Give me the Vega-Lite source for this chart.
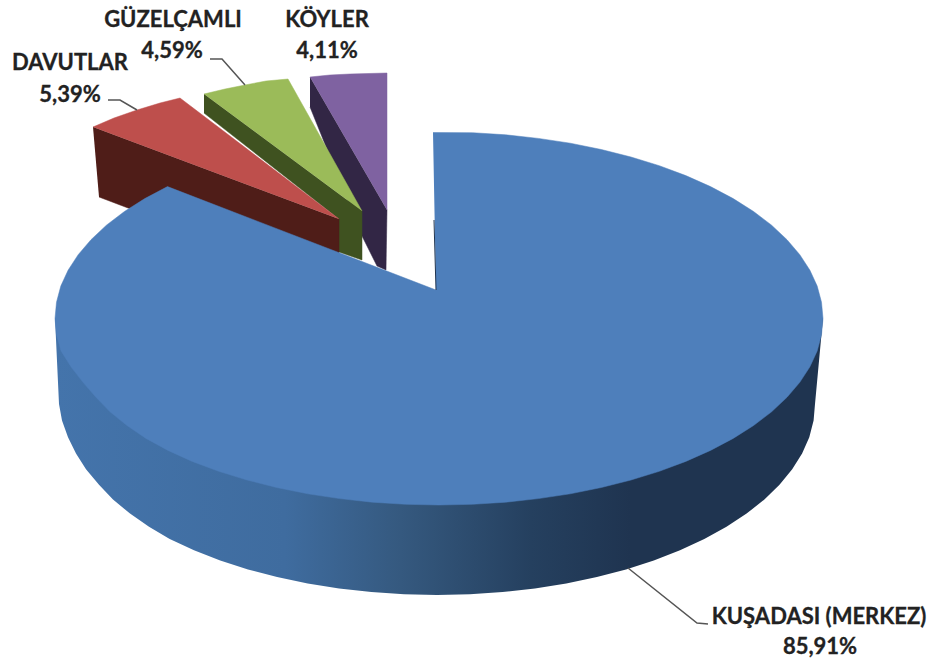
{
"$schema":"https://vega.github.io/schema/vega-lite/v6.json",
"width":944,"height":661,"padding":0,"autosize":{"type":"none"},"background":"white",
"view":{"stroke":null},
"datasets":{
"shapes":[
{"part":"side","i":0,"x":55,"y":318},{"part":"side","i":1,"x":59,"y":404},{"part":"side","i":2,"x":62,"y":420.6},{"part":"side","i":3,"x":68,"y":437.2},{"part":"side","i":4,"x":76,"y":453.4},{"part":"side","i":5,"x":86,"y":469.3},{"part":"side","i":6,"x":99,"y":484.7},{"part":"side","i":7,"x":113,"y":499.5},{"part":"side","i":8,"x":130,"y":513.6},{"part":"side","i":9,"x":149,"y":526.8},{"part":"side","i":10,"x":169.7,"y":539.1},{"part":"side","i":11,"x":194,"y":550.3},{"part":"side","i":12,"x":220.2,"y":560.5},{"part":"side","i":13,"x":248,"y":569.4},{"part":"side","i":14,"x":277.1,"y":577.1},{"part":"side","i":15,"x":307.7,"y":583.5},{"part":"side","i":16,"x":339.1,"y":588.5},{"part":"side","i":17,"x":371.4,"y":592.1},{"part":"side","i":18,"x":404.1,"y":594.3},{"part":"side","i":19,"x":437,"y":595},{"part":"side","i":20,"x":469.9,"y":594.3},{"part":"side","i":21,"x":502.6,"y":592.1},{"part":"side","i":22,"x":534.9,"y":588.5},{"part":"side","i":23,"x":566.3,"y":583.5},{"part":"side","i":24,"x":596.9,"y":577.1},{"part":"side","i":25,"x":626,"y":569.4},{"part":"side","i":26,"x":653.8,"y":560.5},{"part":"side","i":27,"x":680,"y":550.3},{"part":"side","i":28,"x":704.3,"y":539.1},{"part":"side","i":29,"x":726.5,"y":526.8},{"part":"side","i":30,"x":746.6,"y":513.6},{"part":"side","i":31,"x":764.4,"y":499.5},{"part":"side","i":32,"x":779.5,"y":484.7},{"part":"side","i":33,"x":792.2,"y":469.3},{"part":"side","i":34,"x":802.1,"y":453.4},{"part":"side","i":35,"x":809.3,"y":437.2},{"part":"side","i":36,"x":813.6,"y":420.6},{"part":"side","i":37,"x":815,"y":404},{"part":"side","i":38,"x":823,"y":318},
{"part":"top","i":0,"x":433,"y":132.5},{"part":"top","i":1,"x":472.5,"y":132.7},{"part":"top","i":2,"x":505.7,"y":134.8},{"part":"top","i":3,"x":538.4,"y":138.4},{"part":"top","i":4,"x":570.3,"y":143.2},{"part":"top","i":5,"x":601.3,"y":149.5},{"part":"top","i":6,"x":631,"y":157},{"part":"top","i":7,"x":659.3,"y":165.7},{"part":"top","i":8,"x":685.8,"y":175.6},{"part":"top","i":9,"x":710.5,"y":186.6},{"part":"top","i":10,"x":733.2,"y":198.6},{"part":"top","i":11,"x":753.6,"y":211.5},{"part":"top","i":12,"x":771.6,"y":225.2},{"part":"top","i":13,"x":787,"y":239.7},{"part":"top","i":14,"x":799.8,"y":254.7},{"part":"top","i":15,"x":809.9,"y":270.2},{"part":"top","i":16,"x":817.2,"y":286.1},{"part":"top","i":17,"x":821.5,"y":302.2},{"part":"top","i":18,"x":823,"y":318.5},{"part":"top","i":19,"x":821.5,"y":334.8},{"part":"top","i":20,"x":817.2,"y":350.9},{"part":"top","i":21,"x":809.9,"y":366.8},{"part":"top","i":22,"x":799.8,"y":382.3},{"part":"top","i":23,"x":787,"y":397.3},{"part":"top","i":24,"x":771.6,"y":411.8},{"part":"top","i":25,"x":753.6,"y":425.5},{"part":"top","i":26,"x":733.2,"y":438.4},{"part":"top","i":27,"x":710.5,"y":450.4},{"part":"top","i":28,"x":685.8,"y":461.4},{"part":"top","i":29,"x":659.3,"y":471.3},{"part":"top","i":30,"x":631,"y":480},{"part":"top","i":31,"x":601.3,"y":487.5},{"part":"top","i":32,"x":570.3,"y":493.8},{"part":"top","i":33,"x":538.4,"y":498.6},{"part":"top","i":34,"x":505.7,"y":502.2},{"part":"top","i":35,"x":472.5,"y":504.3},{"part":"top","i":36,"x":439,"y":505},{"part":"top","i":37,"x":405.5,"y":504.3},{"part":"top","i":38,"x":372.3,"y":502.2},{"part":"top","i":39,"x":339.6,"y":498.6},{"part":"top","i":40,"x":307.7,"y":493.8},{"part":"top","i":41,"x":276.7,"y":487.5},{"part":"top","i":42,"x":247,"y":480},{"part":"top","i":43,"x":218.7,"y":471.3},{"part":"top","i":44,"x":192.2,"y":461.4},{"part":"top","i":45,"x":168,"y":450.4},{"part":"top","i":46,"x":146,"y":438.4},{"part":"top","i":47,"x":127,"y":425.5},{"part":"top","i":48,"x":110,"y":411.8},{"part":"top","i":49,"x":96,"y":397.3},{"part":"top","i":50,"x":83,"y":382.3},{"part":"top","i":51,"x":71,"y":366.8},{"part":"top","i":52,"x":61,"y":350.9},{"part":"top","i":53,"x":56.5,"y":334.8},{"part":"top","i":54,"x":55,"y":318.5},{"part":"top","i":55,"x":56.5,"y":302.2},{"part":"top","i":56,"x":60.8,"y":286.1},{"part":"top","i":57,"x":68.1,"y":270.2},{"part":"top","i":58,"x":78.2,"y":254.7},{"part":"top","i":59,"x":91,"y":239.7},{"part":"top","i":60,"x":106.4,"y":225.2},{"part":"top","i":61,"x":124.4,"y":211.5},{"part":"top","i":62,"x":144.8,"y":198.6},{"part":"top","i":63,"x":167.5,"y":186.6},{"part":"top","i":64,"x":436,"y":290},
{"part":"purpleDark","i":0,"x":310,"y":77},{"part":"purpleDark","i":1,"x":387,"y":210},{"part":"purpleDark","i":2,"x":386,"y":270},{"part":"purpleDark","i":3,"x":377,"y":266},{"part":"purpleDark","i":4,"x":362,"y":236},{"part":"purpleDark","i":5,"x":310,"y":107},
{"part":"purple","i":0,"x":310,"y":77},{"part":"purple","i":1,"x":330,"y":75},{"part":"purple","i":2,"x":350,"y":74},{"part":"purple","i":3,"x":387,"y":73},{"part":"purple","i":4,"x":387,"y":210},
{"part":"greenDark","i":0,"x":204,"y":94},{"part":"greenDark","i":1,"x":362,"y":211},{"part":"greenDark","i":2,"x":362,"y":260},{"part":"greenDark","i":3,"x":339,"y":252},{"part":"greenDark","i":4,"x":339,"y":219},{"part":"greenDark","i":5,"x":204,"y":113},
{"part":"green","i":0,"x":204,"y":94},{"part":"green","i":1,"x":225,"y":89},{"part":"green","i":2,"x":245,"y":85},{"part":"green","i":3,"x":266,"y":81},{"part":"green","i":4,"x":288,"y":79},{"part":"green","i":5,"x":362,"y":211},
{"part":"redDark","i":0,"x":93,"y":127},{"part":"redDark","i":1,"x":339,"y":219},{"part":"redDark","i":2,"x":339,"y":256},{"part":"redDark","i":3,"x":128,"y":208},{"part":"redDark","i":4,"x":99,"y":197},
{"part":"red","i":0,"x":93,"y":127},{"part":"red","i":1,"x":114,"y":118},{"part":"red","i":2,"x":137,"y":110},{"part":"red","i":3,"x":160,"y":103},{"part":"red","i":4,"x":180,"y":98},{"part":"red","i":5,"x":339,"y":219}
],
"leaders":[
{"part":"DAVUTLAR","i":0,"x":108,"y":100},{"part":"DAVUTLAR","i":1,"x":120,"y":100},{"part":"DAVUTLAR","i":2,"x":137,"y":110},
{"part":"GÜZELÇAMLI","i":0,"x":210,"y":59},{"part":"GÜZELÇAMLI","i":1,"x":222,"y":59},{"part":"GÜZELÇAMLI","i":2,"x":245,"y":85},
{"part":"KUŞADASI","i":0,"x":628,"y":568},{"part":"KUŞADASI","i":1,"x":697,"y":623},{"part":"KUŞADASI","i":2,"x":708,"y":624}
],
"edge":[
{"i":0,"x":434,"y":220},{"i":1,"x":436,"y":290}
],
"labels":[
{"text":"GÜZELÇAMLI","x":173,"y":20},{"text":"4,59%","x":172,"y":51},
{"text":"KÖYLER","x":327,"y":20},{"text":"4,11%","x":327,"y":51},
{"text":"DAVUTLAR","x":70,"y":63},{"text":"5,39%","x":70,"y":95},
{"text":"KUŞADASI (MERKEZ)","x":819,"y":617},{"text":"85,91%","x":820,"y":647}
]
},
"encoding":{
"x":{"field":"x","type":"quantitative","scale":{"domain":[0,944],"nice":false,"zero":false},"axis":null},
"y":{"field":"y","type":"quantitative","scale":{"domain":[661,0],"nice":false,"zero":false},"axis":null},
"order":{"field":"i","type":"quantitative"}
},
"layer":[
{"data":{"name":"shapes"},"transform":[{"filter":"datum.part==='purpleDark'"}],"mark":{"type":"line","fill":"#322645","stroke":"#322645","strokeWidth":0.5}},
{"data":{"name":"shapes"},"transform":[{"filter":"datum.part==='purple'"}],"mark":{"type":"line","fill":"#7f62a1","stroke":"#7f62a1","strokeWidth":0.5}},
{"data":{"name":"shapes"},"transform":[{"filter":"datum.part==='greenDark'"}],"mark":{"type":"line","fill":"#3f5220","stroke":"#3f5220","strokeWidth":0.5}},
{"data":{"name":"shapes"},"transform":[{"filter":"datum.part==='green'"}],"mark":{"type":"line","fill":"#9bbb59","stroke":"#9bbb59","strokeWidth":0.5}},
{"data":{"name":"shapes"},"transform":[{"filter":"datum.part==='redDark'"}],"mark":{"type":"line","fill":"#4f1d18","stroke":"#4f1d18","strokeWidth":0.5}},
{"data":{"name":"shapes"},"transform":[{"filter":"datum.part==='red'"}],"mark":{"type":"line","fill":"#be4f4c","stroke":"#be4f4c","strokeWidth":0.5}},
{"data":{"name":"shapes"},"transform":[{"filter":"datum.part==='side'"}],"mark":{"type":"line","stroke":null,"fill":{"gradient":"linear","x1":0,"y1":0,"x2":1,"y2":0,"stops":[{"offset":0,"color":"#4474ab"},{"offset":0.3,"color":"#3f6c9f"},{"offset":0.45,"color":"#35597f"},{"offset":0.62,"color":"#25405f"},{"offset":0.75,"color":"#1f3450"},{"offset":1,"color":"#1f3450"}]}}},
{"data":{"name":"shapes"},"transform":[{"filter":"datum.part==='top'"}],"mark":{"type":"line","fill":"#4e7fbb","stroke":"#4e7fbb","strokeWidth":0.5}},
{"data":{"name":"edge"},"mark":{"type":"line","stroke":"#1f3450","strokeWidth":1}},
{"data":{"name":"leaders"},"mark":{"type":"line","stroke":"#555555","strokeWidth":1.5},"encoding":{"detail":{"field":"part"}}},
{"data":{"name":"labels"},"mark":{"type":"text","font":"Lato","fontWeight":"bold","fontSize":22,"align":"center","baseline":"middle","fill":"#222222","stroke":"#222222","strokeWidth":0.3},"encoding":{"text":{"field":"text"},"order":{"value":null}}}
]
}
